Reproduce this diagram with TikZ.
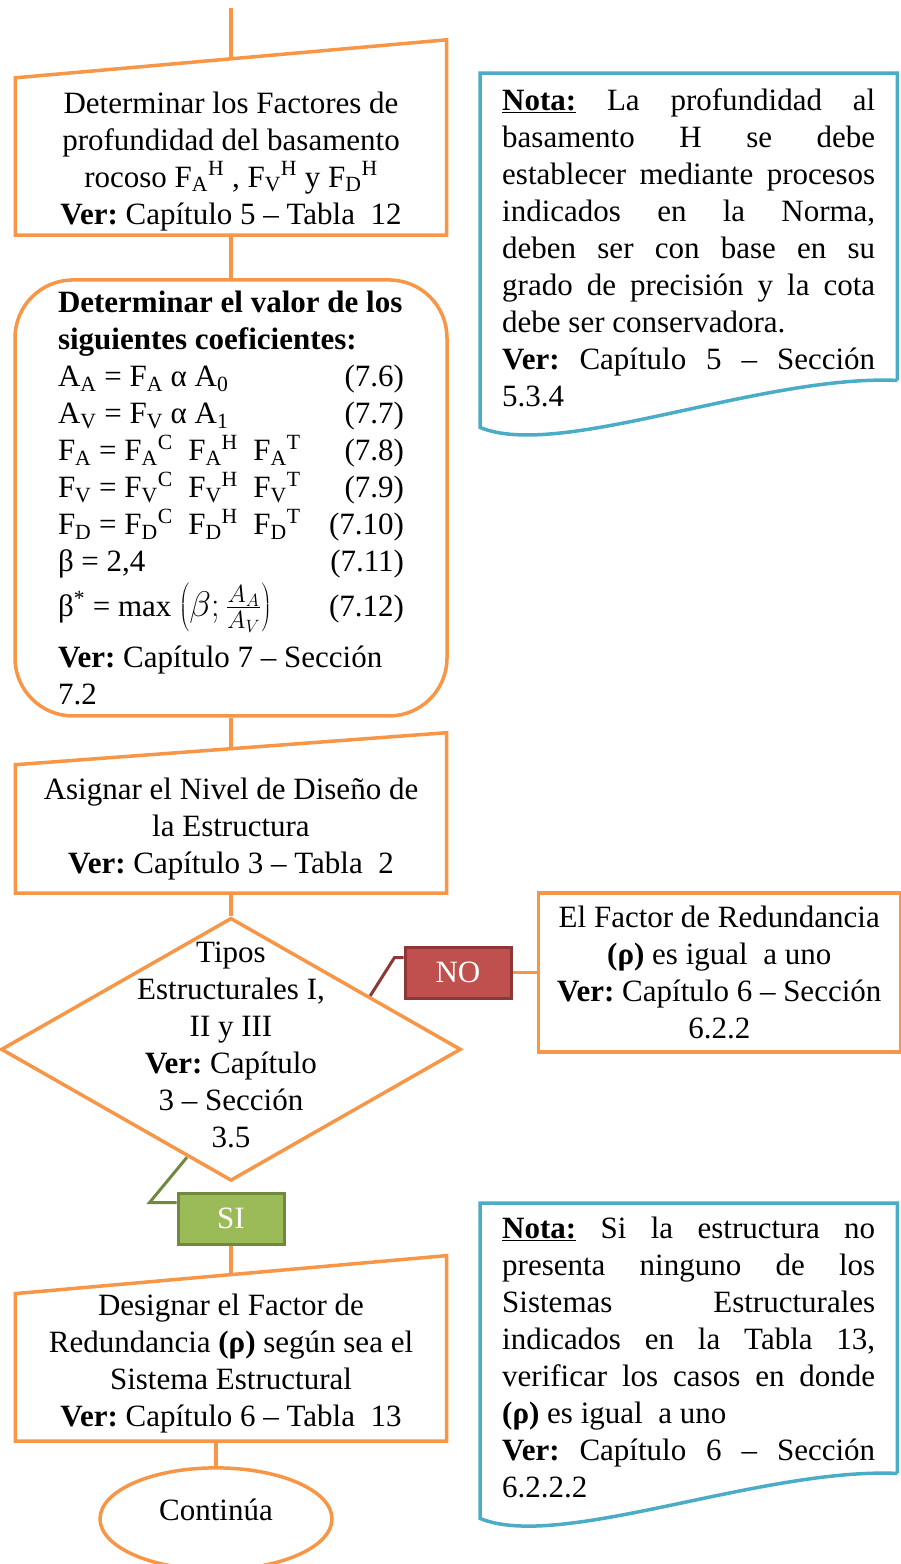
\RequirePackage{fix-cm}
\documentclass[tikz,border=0pt]{standalone}
\usepackage{graphicx}
\usepackage{fontspec}
\setmainfont{Liberation Serif}
\definecolor{flowOrange}{HTML}{F79646}
\definecolor{noteBlue}{HTML}{4BACC6}
\definecolor{noRed}{HTML}{C0504D}
\definecolor{noRedDark}{HTML}{8C3836}
\definecolor{siGreen}{HTML}{9BBB59}
\definecolor{siGreenDark}{HTML}{71893F}
\usetikzlibrary{positioning,shapes.geometric,calc,backgrounds}
\newcommand{\jline}[1]{\makebox[373pt][s]{\spaceskip=.25em plus 1fil\relax #1}}

\begin{document}
\frenchspacing
\begin{tikzpicture}[
  x=1pt, y=-1pt,
  font=\fontsize{31}{37}\selectfont,
  every node/.style={inner sep=0pt,execute at begin node={\spaceskip=.25em\relax}},
  boxline/.style={draw=flowOrange,line width=3.5pt},
  flow/.style={draw=flowOrange,line width=3.5pt},
  manualbox/.style={minimum width=431pt,text width=425pt,align=center},
  coefbox/.style={boxline,fill=white,rounded corners=58pt,minimum width=432pt,
    minimum height=436pt,text width=346pt,align=left},
  decision/.style={diamond,boxline,fill=white,minimum width=460pt,minimum height=263pt},
  plainbox/.style={rectangle,boxline,fill=white,align=center},
  answer/.style={rectangle,line width=3pt,minimum width=106pt,minimum height=51pt,text=white},
  terminal/.style={ellipse,boxline,fill=white,minimum width=232pt,minimum height=102pt,
    text height=16pt,text depth=12pt},
  notebox/.style={minimum width=417pt},
  notetext/.style={text width=373pt,align=left,anchor=north west},
  noteline/.style={draw=noteBlue,line width=3.5pt},
  nolink/.style={draw=noRedDark,line width=3pt},
  silink/.style={draw=siGreenDark,line width=3pt}
]
\useasboundingbox (0,0) rectangle (900,1564);

% main column
\coordinate (start) at (231,8);
\node[manualbox,minimum height=157pt] (fdepth) at (231,156.5)
  {\rule{0pt}{31pt}Determinar los Factores de\\profundidad del basamento\\
   rocoso F\textsubscript{A}\textsuperscript{H} , F\textsubscript{V}\textsuperscript{H} y F\textsubscript{D}\textsuperscript{H}\\
   \textbf{Ver:} Capítulo 5 – Tabla~ 12};
\node[coefbox,below=43pt of fdepth] (coefs)
  {\textbf{Determinar el valor de los}\\\textbf{siguientes coeficientes:}\\
   A\textsubscript{A} = F\textsubscript{A} α A\textsubscript{0}\hfill(7.6)\\
   A\textsubscript{V} = F\textsubscript{V} α A\textsubscript{1}\hfill(7.7)\\
   F\textsubscript{A} = F\textsubscript{A}\textsuperscript{C}~ F\textsubscript{A}\textsuperscript{H}~ F\textsubscript{A}\textsuperscript{T}\hfill(7.8)\\
   F\textsubscript{V} = F\textsubscript{V}\textsuperscript{C}~ F\textsubscript{V}\textsuperscript{H}~ F\textsubscript{V}\textsuperscript{T}\hfill(7.9)\\
   F\textsubscript{D} = F\textsubscript{D}\textsuperscript{C}~ F\textsubscript{D}\textsuperscript{H}~ F\textsubscript{D}\textsuperscript{T}\hfill(7.10)\\
   β = 2,4\hfill(7.11)\\[4pt]
   β\textsuperscript{*} = max \scalebox{1.15}{$\left(\beta;\frac{A_A}{A_V}\right)$}\hfill(7.12)\\[12pt]
   \textbf{Ver:} Capítulo 7 – Sección\\7.2};
\node[manualbox,minimum height=128pt,below=47pt of coefs] (nivel)
  {Asignar el Nivel de Diseño de\\la Estructura\\\textbf{Ver:} Capítulo 3 – Tabla~ 2};
\node[decision,below=23pt of nivel] (tipos) {};
\node[align=center] (tipostxt) at ([yshift=4pt]tipos.center)
  {Tipos\\Estructurales I,\\II y III\\\textbf{Ver:} Capítulo\\3 – Sección\\3.5};
\node[answer,fill=siGreen,draw=siGreenDark,below=9pt of tipos] (si) {SI};
\node[manualbox,minimum height=147pt,below=48pt of si] (desig)
  {Designar el Factor de\\Redundancia \textbf{(ρ)} según sea el\\Sistema Estructural\\
   \textbf{Ver:} Capítulo 6 – Tabla~ 13\vspace{8pt}};
\node[terminal,below=25pt of desig,xshift=-15pt] (cont) {Continúa};

% NO branch
\node[answer,fill=noRed,draw=noRedDark] (no) at (458,972.5) {NO};
\node[plainbox,minimum width=362pt,minimum height=159pt,right=24pt of no] (redund)
  {El Factor de Redundancia\\\textbf{(ρ)} es igual~ a uno\\\textbf{Ver:} Capítulo 6 – Sección\\6.2.2};

% notes
\node[notebox,minimum height=307pt,anchor=north west] (nota1) at (480,73) {};
\node[notetext] (nota1txt) at ([xshift=22pt,yshift=-15pt]nota1.north west)
  {\jline{\underline{\textbf{Nota:}} La profundidad al}\\
   \jline{basamento H se debe}\\
   \jline{establecer mediante procesos}\\
   \jline{indicados en la Norma,}\\
   \jline{deben ser con base en su}\\
   \jline{grado de precisión y la cota}\\
   debe ser conservadora.\\
   \jline{\textbf{Ver:} Capítulo 5 – Sección}\\
   5.3.4};
\node[notebox,minimum height=270pt,anchor=north west] (nota2) at (480,1203) {};
\node[notetext] (nota2txt) at ([xshift=22pt,yshift=-14pt]nota2.north west)
  {\jline{\underline{\textbf{Nota:}} Si la estructura no}\\
   \jline{presenta ninguno de los}\\
   \jline{Sistemas Estructurales}\\
   \jline{indicados en la Tabla 13,}\\
   \jline{verificar los casos en donde}\\
   \textbf{(ρ)} es igual~ a uno\\
   \jline{\textbf{Ver:} Capítulo 6 – Sección}\\
   6.2.2.2};
\draw[noteline] (nota1.south east) -- (nota1.north east) -- (nota1.north west)
  -- ([yshift=-47pt]nota1.south west) .. controls +(79,33) and +(-137,-6) .. (nota1.south east);
\draw[noteline] (nota2.south east) -- (nota2.north east) -- (nota2.north west)
  -- ([yshift=-45pt]nota2.south west) .. controls +(79,33) and +(-137,-6) .. (nota2.south east);

\begin{scope}[on background layer]
  \draw[flow] (start) -- (fdepth.north);
  \draw[flow] (fdepth.south) -- (coefs.north);
  \draw[flow] (coefs.south) -- (nivel.north);
  \draw[flow] (nivel.south) -- (tipos.north);
  \draw[flow] (si.south) -- (desig.north);
  \draw[flow] (desig.south -| cont.north) -- (cont.north);
  \draw[flow] (no.east) -- (redund.west);
  \draw[nolink] ($(tipos.north)!0.6!(tipos.east)$) -- ([xshift=-9pt,yshift=15pt]no.west) -- ([yshift=15pt]no.west);
  \draw[silink] ($(tipos.west)!0.81!(tipos.south)$) -- ([xshift=-27pt,yshift=16pt]si.west) -- ([yshift=16pt]si.west);
  % slanted input boxes
  \draw[boxline,fill=white] (fdepth.south west) -- (fdepth.south east) -- ([yshift=38pt]fdepth.north east) -- (fdepth.north west) -- cycle;
  \draw[boxline,fill=white] (nivel.south west) -- (nivel.south east) -- ([yshift=32pt]nivel.north east) -- (nivel.north west) -- cycle;
  \draw[boxline,fill=white] (desig.south west) -- (desig.south east) -- ([yshift=38pt]desig.north east) -- (desig.north west) -- cycle;
\end{scope}
\end{tikzpicture}
\end{document}
